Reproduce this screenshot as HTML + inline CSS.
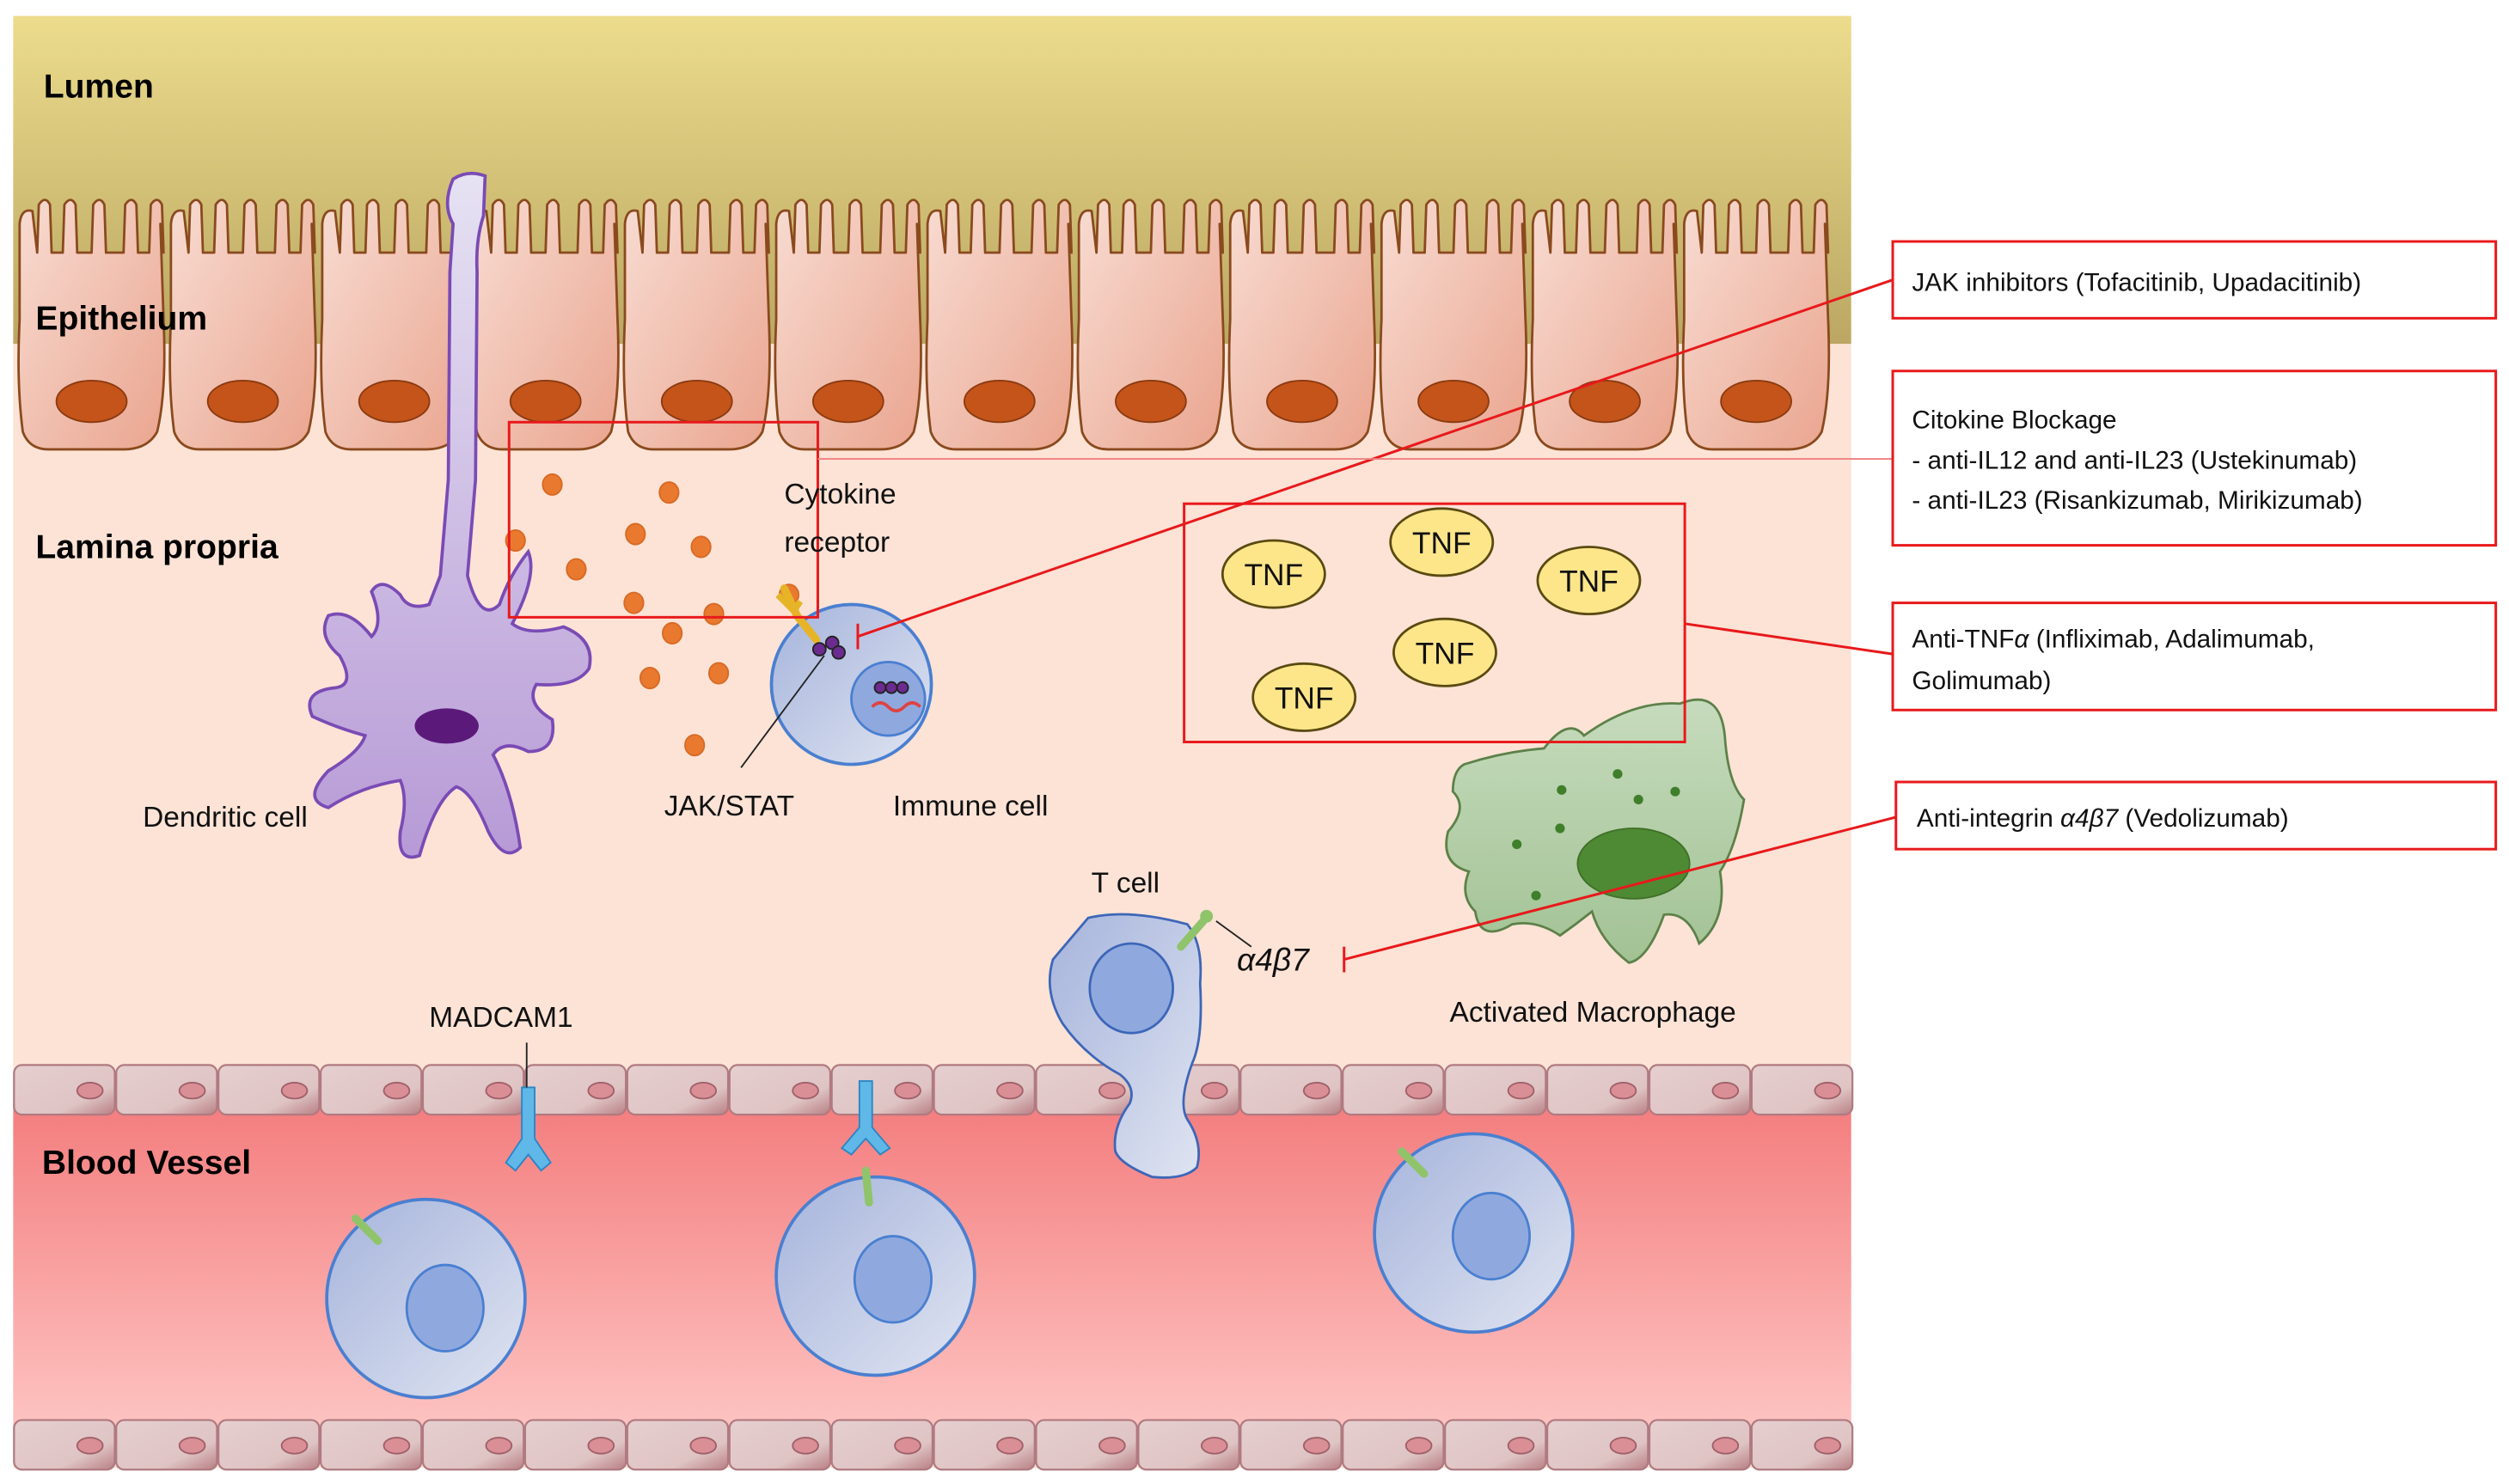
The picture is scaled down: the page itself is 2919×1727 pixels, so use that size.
<!DOCTYPE html>
<html><head><meta charset="utf-8"><style>
html,body{margin:0;padding:0;background:#fff;}
svg{display:block;}
text{font-family:"Liberation Sans",sans-serif;}
</style></head><body>
<svg id="s" width="2919" height="1727" viewBox="0 0 1568 928" xmlns="http://www.w3.org/2000/svg">
<defs>
<linearGradient id="lum" x1="0" y1="0" x2="0" y2="1"><stop offset="0" stop-color="#ecdc8c"/><stop offset="1" stop-color="#bba763"/></linearGradient>
<linearGradient id="epi" x1="0" y1="0" x2="1" y2="1"><stop offset="0" stop-color="#f8dcd2"/><stop offset="1" stop-color="#eaa58f"/></linearGradient>
<linearGradient id="blood" x1="0" y1="0" x2="0" y2="1"><stop offset="0" stop-color="#f47d7e"/><stop offset="1" stop-color="#fdc4c2"/></linearGradient>
<linearGradient id="endo" x1="0" y1="0" x2="1" y2="1"><stop offset="0" stop-color="#e6cfcf"/><stop offset="0.7" stop-color="#dfc4c4"/><stop offset="1" stop-color="#b87f84"/></linearGradient>
<linearGradient id="cell" x1="0" y1="0" x2="1" y2="1"><stop offset="0" stop-color="#a6b4dc"/><stop offset="1" stop-color="#dfe4f1"/></linearGradient>
<linearGradient id="dc" x1="0" y1="0" x2="0" y2="1"><stop offset="0" stop-color="#e6e2f3"/><stop offset="1" stop-color="#b79ad6"/></linearGradient>
<linearGradient id="mac" x1="0" y1="0" x2="0" y2="1"><stop offset="0" stop-color="#c6dbbd"/><stop offset="1" stop-color="#a2c294"/></linearGradient>
</defs>
<!-- backgrounds -->
<rect x="8" y="10" width="1149" height="908" fill="#fce3d6"/>
<rect x="8" y="10" width="1149" height="205" fill="url(#lum)"/>
<rect x="8" y="690" width="1149" height="205" fill="url(#blood)"/>
<g id="epiG"></g>
<!-- dendritic cell -->
<path d="M283,112 Q292,106 303,110 L302,135 Q297,150 298,170 L297,300 L292,360 Q300,390 312,378 Q318,360 330,345 Q336,360 320,390 Q330,398 352,392 Q372,400 368,418 Q360,430 335,428 Q328,440 345,450 Q348,470 330,470 Q315,462 308,472 Q320,495 325,530 Q315,540 305,520 Q295,495 285,492 Q272,500 262,535 Q248,540 250,520 Q255,500 250,488 Q225,492 205,505 Q188,500 205,482 Q225,470 228,460 Q210,455 195,448 Q188,432 210,430 Q222,428 212,410 Q198,398 205,385 Q218,380 232,398 Q240,390 232,370 Q238,360 250,372 Q255,382 268,378 L275,360 L280,300 L281,170 L283,140 Q276,128 283,112 Z" fill="url(#dc)" stroke="#7a4bb5" stroke-width="2"/>
<ellipse cx="279" cy="454" rx="20" ry="11" fill="#5b1a7a"/>
<!-- cytokine dots -->
<g fill="#e9792f" stroke="#d86a25" stroke-width="1" id="dots"></g>
<!-- immune cell -->
<circle cx="532" cy="428" r="50" fill="url(#cell)" stroke="#4a7fd0" stroke-width="2"/>
<circle cx="555" cy="437" r="23" fill="#8fa9df" stroke="#4a7fd0" stroke-width="1.5"/>
<path d="M490,368 L498,385 L510,400" stroke="#e7b428" stroke-width="5" fill="none" stroke-linecap="round"/>
<path d="M486,372 L496,382 M500,376 L496,382" stroke="#e7b428" stroke-width="4" fill="none"/>
<circle cx="512" cy="406" r="4" fill="#6b2b8f" stroke="#222"/><circle cx="520" cy="402" r="4" fill="#6b2b8f" stroke="#222"/><circle cx="524" cy="408" r="4" fill="#6b2b8f" stroke="#222"/>
<circle cx="550" cy="430" r="3.5" fill="#6b2b8f" stroke="#222"/><circle cx="557" cy="430" r="3.5" fill="#6b2b8f" stroke="#222"/><circle cx="564" cy="430" r="3.5" fill="#6b2b8f" stroke="#222"/>
<path d="M545,442 q5,-5 10,0 t10,0 t10,0" stroke="#d44" stroke-width="2" fill="none"/>
<line x1="515" y1="410" x2="463" y2="480" stroke="#222" stroke-width="1"/>
<!-- macrophage -->
<path d="M915,478 Q940,470 965,468 Q980,448 990,460 Q1020,438 1050,440 Q1075,430 1078,460 Q1080,490 1090,500 Q1085,530 1075,545 Q1080,575 1062,590 Q1055,570 1040,572 Q1030,600 1018,602 Q1000,588 995,570 Q985,578 975,585 Q960,575 945,578 Q925,590 922,570 Q912,560 918,545 Q900,540 905,520 Q918,505 908,495 Q908,482 915,478 Z" fill="url(#mac)" stroke="#5d8149" stroke-width="1.5"/>
<ellipse cx="1021" cy="540" rx="35" ry="22" fill="#4e8a33" stroke="#3f6f28"/>
<g fill="#3f7f2a"><circle cx="976" cy="494" r="3"/><circle cx="1011" cy="484" r="3"/><circle cx="1047" cy="495" r="3"/><circle cx="1024" cy="500" r="3"/><circle cx="948" cy="528" r="3"/><circle cx="975" cy="518" r="3"/><circle cx="960" cy="560" r="3"/></g>
<!-- TNF -->
<g id="tnf"></g>
<!-- endothelium rows -->
<g id="endoG"></g>
<!-- T cell -->
<path d="M680,574 Q705,568 742,578 Q752,590 750,615 Q752,650 745,665 Q736,690 742,700 Q752,715 748,730 Q740,738 720,736 Q700,728 697,720 Q695,705 706,690 Q710,680 700,672 Q678,660 664,640 Q652,620 658,600 Z" fill="url(#cell)" stroke="#3d66b8" stroke-width="1.5"/>
<ellipse cx="707" cy="618" rx="26" ry="28" fill="#8fa9df" stroke="#3d66b8" stroke-width="1.5"/>
<path d="M738,592 L752,576" stroke="#8fc46a" stroke-width="5" stroke-linecap="round"/><circle cx="754" cy="573" r="4" fill="#8fc46a"/>
<line x1="760" y1="576" x2="782" y2="592" stroke="#222" stroke-width="1"/>
<!-- blood cells -->
<circle cx="266" cy="812" r="62" fill="url(#cell)" stroke="#4a7fd0" stroke-width="2"/>
<ellipse cx="278" cy="818" rx="24" ry="27" fill="#8fa9df" stroke="#4a7fd0" stroke-width="1.5"/>
<path d="M236,776 L222,762" stroke="#8fc46a" stroke-width="5" stroke-linecap="round"/>
<circle cx="547" cy="798" r="62" fill="url(#cell)" stroke="#4a7fd0" stroke-width="2"/>
<ellipse cx="558" cy="800" rx="24" ry="27" fill="#8fa9df" stroke="#4a7fd0" stroke-width="1.5"/>
<path d="M543,752 L541,732" stroke="#8fc46a" stroke-width="5" stroke-linecap="round"/>
<circle cx="921" cy="771" r="62" fill="url(#cell)" stroke="#4a7fd0" stroke-width="2"/>
<ellipse cx="932" cy="773" rx="24" ry="27" fill="#8fa9df" stroke="#4a7fd0" stroke-width="1.5"/>
<path d="M890,734 L876,720" stroke="#8fc46a" stroke-width="5" stroke-linecap="round"/>
<!-- MADCAM -->
<path d="M326,680 L334,680 L334,712 L344,727 L338,732 L330,722 L322,732 L316,727 L326,712 Z" fill="#5fb8e8" stroke="#2a86c4"/>
<line x1="329" y1="652" x2="329" y2="680" stroke="#222"/>
<path d="M537,676 L545,676 L545,705 L556,718 L550,722 L541,712 L532,722 L526,718 L537,705 Z" fill="#5fb8e8" stroke="#2a86c4"/>
<!-- red boxes and lines -->
<g stroke="#e8191b" fill="none" stroke-width="1.6">
<rect x="318" y="264" width="193" height="122"/>
<rect x="740" y="315" width="313" height="149"/>
<line x1="1183" y1="175" x2="536" y2="398"/><line x1="536" y1="390" x2="536" y2="406"/>
<line x1="511" y1="287" x2="1183" y2="287" stroke="#f08080" stroke-width="1"/>
<line x1="1053" y1="390" x2="1183" y2="409"/>
<line x1="1185" y1="511" x2="840" y2="600"/><line x1="840" y1="592" x2="840" y2="608"/>
<rect x="1183" y="151" width="377" height="48"/>
<rect x="1183" y="232" width="377" height="109"/>
<rect x="1183" y="377" width="377" height="67"/>
<rect x="1185" y="489" width="375" height="42"/>
</g>
<!-- labels -->
<g font-weight="bold" font-size="21" fill="#000">
<text x="27" y="61">Lumen</text>
<text x="22" y="206">Epithelium</text>
<text x="22" y="349">Lamina propria</text>
<text x="26" y="734">Blood Vessel</text>
</g>
<g font-size="18" fill="#111">
<text x="490" y="315">Cytokine</text>
<text x="490" y="345">receptor</text>
<text x="89" y="517">Dendritic cell</text>
<text x="415" y="510">JAK/STAT</text>
<text x="558" y="510">Immune cell</text>
<text x="682" y="558">T cell</text>
<text x="773" y="607" font-style="italic" font-family="Liberation Serif,serif" font-size="20">α4β7</text>
<text x="906" y="639">Activated Macrophage</text>
<text x="268" y="642">MADCAM1</text>
</g>
<g font-size="16" fill="#111">
<text x="1195" y="182">JAK inhibitors (Tofacitinib, Upadacitinib)</text>
<text x="1195" y="268">Citokine Blockage</text>
<text x="1195" y="293">- anti-IL12 and anti-IL23 (Ustekinumab)</text>
<text x="1195" y="318">- anti-IL23 (Risankizumab, Mirikizumab)</text>
<text x="1195" y="405">Anti-TNF<tspan font-style="italic">α</tspan> (Infliximab, Adalimumab,</text>
<text x="1195" y="431">Golimumab)</text>
<text x="1198" y="517">Anti-integrin <tspan font-style="italic">α4β7</tspan> (Vedolizumab)</text>
</g>
</svg>
<script>
var NS="http://www.w3.org/2000/svg";
function el(p,t,a,txt){var e=document.createElementNS(NS,t);for(var k in a)e.setAttribute(k,a[k]);if(txt)e.textContent=txt;p.appendChild(e);return e;}
var g=document.getElementById('epiG');
for(var i=0;i<12;i++){
 var x=10+i*94.6,w=92;
 var d="M"+(x+4)+",270 Q"+x+",240 "+(x+2)+",200 L"+(x+2)+",140 Q"+(x+3)+",130 "+(x+10)+",132 ";
 var fx=[x+18,x+34,x+52,x+72,x+88];
 var cur=x+10;
 for(var j=0;j<fx.length;j++){
  var f=fx[j];
  d+="L"+(f-5)+",158 L"+(f-4)+",128 Q"+f+",122 "+(f+3)+",128 L"+(f+4)+",158 ";
 }
 d+="L"+(x+w-2)+",140 L"+(x+w)+",200 Q"+(x+w+2)+",245 "+(x+w-4)+",270 Q"+(x+w-10)+",281 "+(x+w-25)+",281 L"+(x+20)+",281 Q"+(x+8)+",281 "+(x+4)+",270 Z";
 el(g,'path',{d:d,fill:'url(#epi)',stroke:'#8a4a1e','stroke-width':1.5,'stroke-linejoin':'round'});
 el(g,'ellipse',{cx:x+47,cy:251,rx:22,ry:13,fill:'#c4541a',stroke:'#8a3a10'});
}
var dots=[[345,303],[418,308],[397,334],[438,342],[322,338],[360,356],[396,377],[446,384],[420,396],[493,372],[406,424],[449,421],[434,466]];
var dg=document.getElementById('dots');
dots.forEach(function(p){el(dg,'ellipse',{cx:p[0],cy:p[1],rx:6,ry:6.5});});
var tg=document.getElementById('tnf');
[[796,359],[901,339],[993,363],[903,408],[815,436]].forEach(function(p){
 el(tg,'ellipse',{cx:p[0],cy:p[1],rx:32,ry:21,fill:'#fde68a',stroke:'#5a4a10','stroke-width':1.5});
 el(tg,'text',{x:p[0],y:p[1]+7,'text-anchor':'middle','font-size':19,fill:'#111'},'TNF');
});
var eg=document.getElementById('endoG');
[666,888].forEach(function(y){
 for(var i=0;i<18;i++){var x=8+i*63.9;
  el(eg,'rect',{x:x+0.5,y:y,width:63,height:31,rx:5,fill:'url(#endo)',stroke:'#b07a80','stroke-width':1.2});
  el(eg,'ellipse',{cx:x+48,cy:y+16,rx:8,ry:5,fill:'#d98f95',stroke:'#a0606a'});
 }
});
</script>
</body></html>
